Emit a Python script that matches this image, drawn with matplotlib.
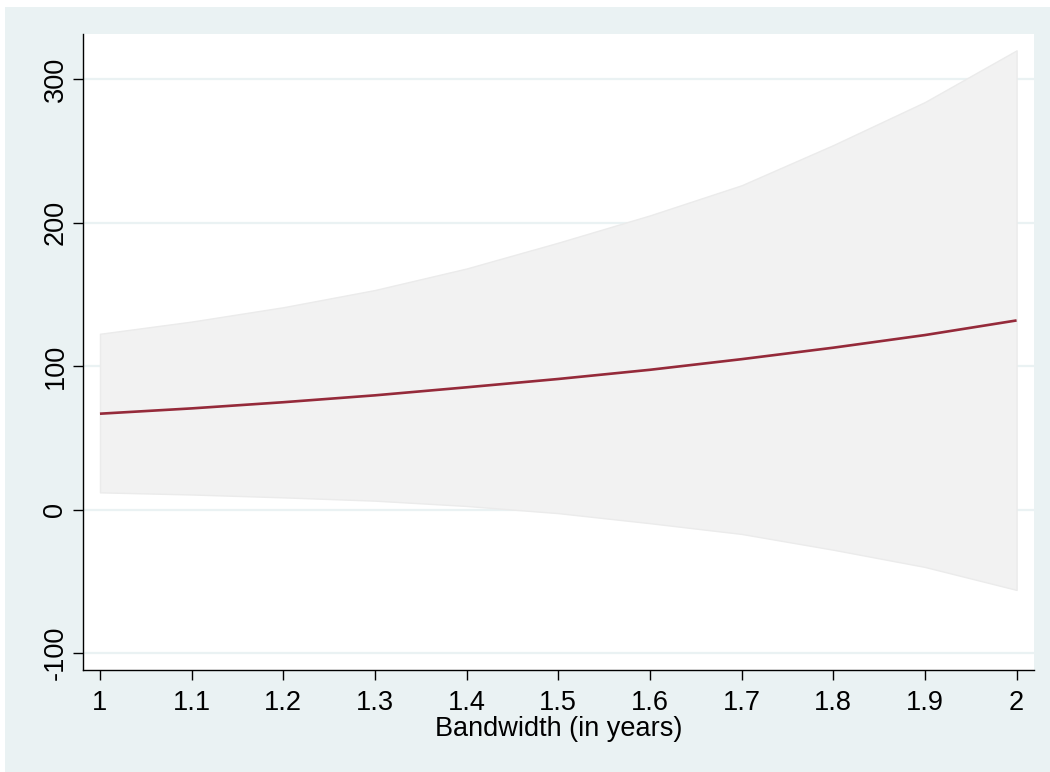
import matplotlib
matplotlib.use("Agg")
import matplotlib.pyplot as plt
from matplotlib.patches import Rectangle

# Estimates by bandwidth with confidence band
bandwidth = [1.0, 1.1, 1.2, 1.3, 1.4, 1.5, 1.6, 1.7, 1.8, 1.9, 2.0]
estimate = [66.8, 70.5, 74.8, 79.6, 85.2, 91.0, 97.4, 104.8, 112.8, 121.6, 131.8]
ci_upper = [122.5, 131.0, 141.0, 153.0, 168.0, 186.0, 205.0, 226.0, 254.0, 284.0, 320.0]
ci_lower = [12.0, 10.5, 8.5, 6.2, 2.5, -2.5, -9.5, -17.0, -28.0, -40.0, -56.0]

x_ticks = [1, 1.1, 1.2, 1.3, 1.4, 1.5, 1.6, 1.7, 1.8, 1.9, 2]
x_ticklabels = ["1", "1.1", "1.2", "1.3", "1.4", "1.5", "1.6", "1.7", "1.8", "1.9", "2"]
y_ticks = [-100, 0, 100, 200, 300]
y_ticklabels = ["-100", "0", "100", "200", "300"]
x_label = "Bandwidth (in years)"

plt.rcParams["font.family"] = ["Liberation Sans", "DejaVu Sans"]

W, H = 1050, 772
fig = plt.figure(figsize=(W / 100, H / 100), dpi=100, facecolor="white")

# graph region background, drawn beneath the axes
bg = Rectangle((5 / W, 0), 1 - 5 / W, 1 - 7 / H,
               transform=fig.transFigure, facecolor="#EAF2F3",
               edgecolor="none", zorder=-10)
fig.add_artist(bg)

ax = fig.add_axes([83 / W, (H - 670) / H, (1034 - 83) / W, (670 - 34) / H])
ax.set_zorder(1)
ax.set_facecolor("white")

ax.fill_between(bandwidth, ci_lower, ci_upper, facecolor="#F2F2F2",
                edgecolor="#EBEBEB", linewidth=1.0, zorder=2)
ax.plot(bandwidth, estimate, color="#952A3A", linewidth=1.9, zorder=3,
        solid_capstyle="butt")

ax.set_xlim(0.9815, 2.019)
ax.set_ylim(-111.8, 331.4)

ax.set_xticks(x_ticks)
ax.set_xticklabels(x_ticklabels)
ax.set_yticks(y_ticks)
ax.set_yticklabels(y_ticklabels, rotation=90, va="center")

ax.yaxis.grid(True, color="#EAF2F3", linewidth=1.6, zorder=1)
ax.xaxis.grid(False)
ax.set_axisbelow(True)

for side in ("top", "right"):
    ax.spines[side].set_visible(False)
for side in ("left", "bottom"):
    ax.spines[side].set_color("black")
    ax.spines[side].set_linewidth(1.0)

ax.tick_params(axis="both", direction="out", length=7.5, width=1.0,
               color="black", labelsize=19.5, labelcolor="black")
ax.tick_params(axis="y", pad=3)
ax.tick_params(axis="x", pad=7)

ax.set_xlabel(x_label, fontsize=19.5, color="black", labelpad=0)

fig.savefig("out.png", dpi=100, facecolor=fig.get_facecolor())
